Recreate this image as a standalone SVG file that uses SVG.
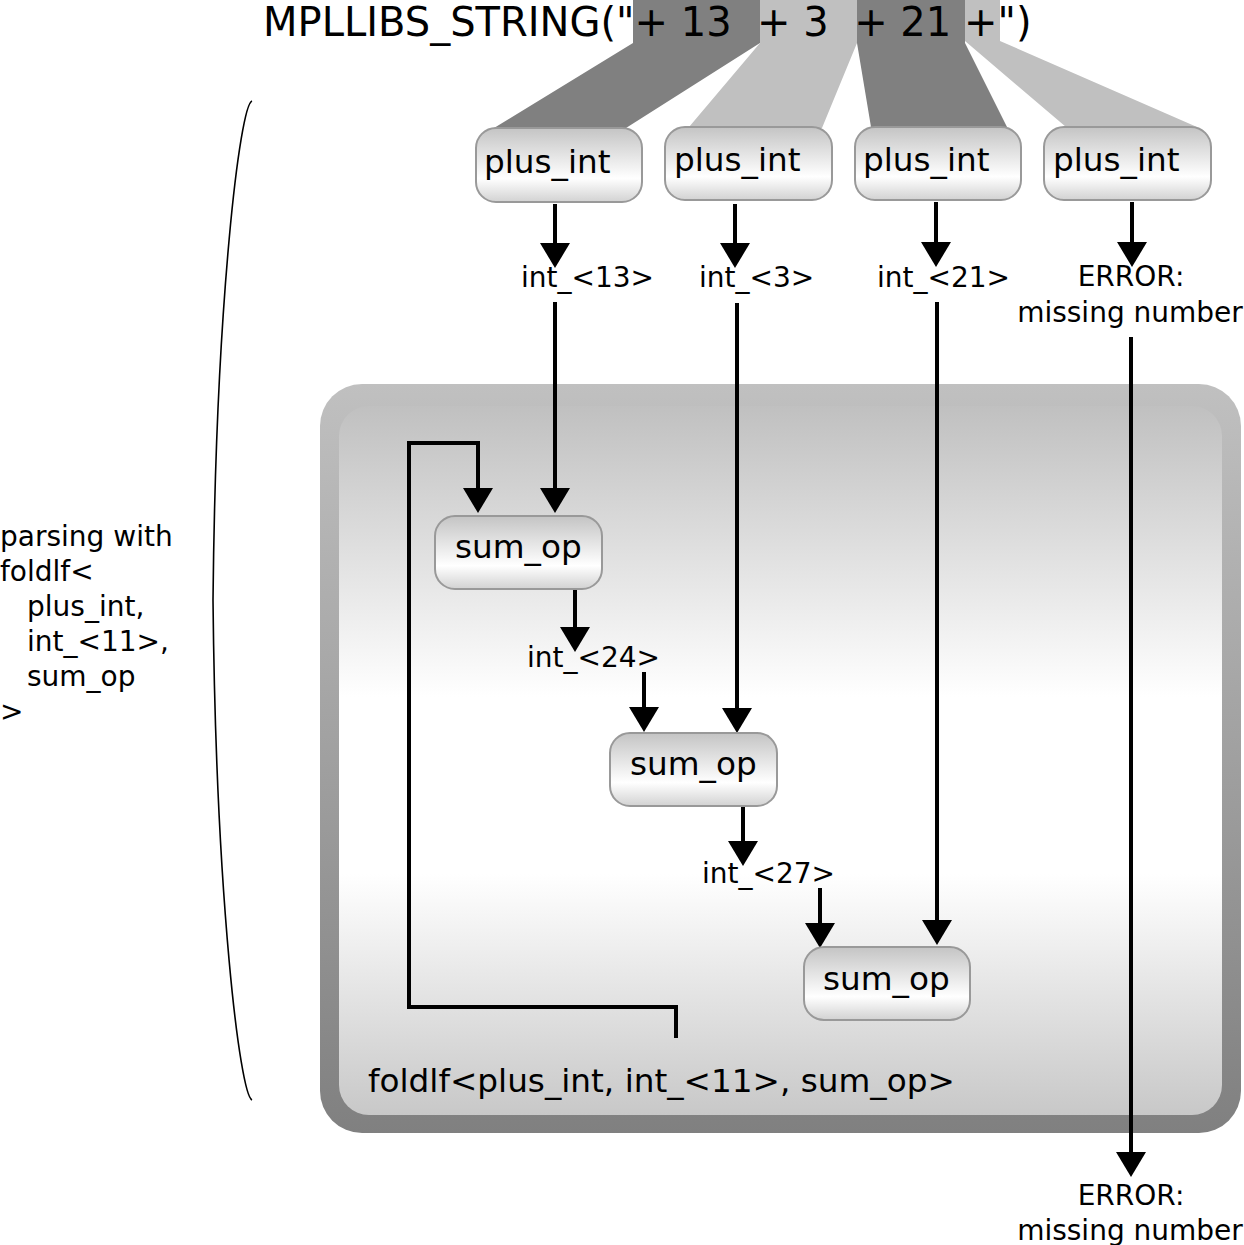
<svg xmlns="http://www.w3.org/2000/svg" width="1244" height="1245" viewBox="0 0 1244 1245">
<style>
text{font-family:"DejaVu Sans","Liberation Sans",sans-serif;fill:#000}
.title{font-size:40px}
.nt{font-size:32.7px}
.lb{font-size:28px}
.node{fill:url(#ng);stroke:#999;stroke-width:2}
.c{fill:none;stroke:#000;stroke-width:4}
.dk{fill:#808080}
.lt{fill:#c0c0c0}
</style>
<defs>
<linearGradient id="ng" x1="0" y1="0" x2="0" y2="1">
<stop offset="0" stop-color="#c4c4c4"/>
<stop offset="0.68" stop-color="#ffffff"/>
<stop offset="1" stop-color="#d2d2d2"/>
</linearGradient>
<linearGradient id="og" x1="0" y1="0" x2="0" y2="1">
<stop offset="0" stop-color="#c0c0c0"/>
<stop offset="1" stop-color="#808080"/>
</linearGradient>
<linearGradient id="ig" x1="0" y1="0" x2="0" y2="1">
<stop offset="0" stop-color="#c0c0c0"/>
<stop offset="0.41" stop-color="#ffffff"/>
<stop offset="0.66" stop-color="#ffffff"/>
<stop offset="1" stop-color="#c8c8c8"/>
</linearGradient>
<marker id="ah" markerUnits="userSpaceOnUse" markerWidth="25" markerHeight="30" refX="21" refY="15" orient="auto">
<path d="M0,0 L25,15 L0,30 z" fill="#000"/>
</marker>
</defs>
<rect width="1244" height="1245" fill="#fff"/>

<g id="container">
<rect x="320" y="384" width="921" height="749" rx="42" fill="url(#og)"/>
<rect x="339" y="406" width="883" height="709" rx="30" fill="url(#ig)"/>
<text x="368" y="1092" class="nt">foldlf&lt;plus_int, int_&lt;11&gt;, sum_op&gt;</text>
</g>

<g id="ribbons">
<polygon class="dk" points="633,0 760,0 760,43 626,128 494,128 633,43"/>
<polygon class="lt" points="760,0 857,0 857,43 822,128 689,127 760,43"/>
<polygon class="dk" points="857,0 965,0 965,43 1007,127 871,127 857,43"/>
<polygon class="lt" points="965,0 1000,0 1000,41 1197,127 1066,127 965,41"/>
</g>

<g id="title">
<text x="263" y="36" class="title" xml:space="preserve" style="white-space:pre">MPLLIBS_STRING("+ 13  + 3  + 21 +")</text>
</g>

<g id="brace">
<path d="M252,101 C240,105 216,300 213,600 C216,900 240,1095 252,1100" fill="none" stroke="#000" stroke-width="1.6"/>
<text class="lb"><tspan x="0" y="546">parsing with</tspan><tspan x="0" y="581">foldlf&lt;</tspan><tspan x="27" y="616">plus_int,</tspan><tspan x="27" y="651">int_&lt;11&gt;,</tspan><tspan x="27" y="686">sum_op</tspan><tspan x="0" y="721">&gt;</tspan></text>
</g>

<g id="connectors">
<path class="c" d="M555,204 V264" marker-end="url(#ah)"/>
<path class="c" d="M555,302 V509" marker-end="url(#ah)"/>
<path class="c" d="M735,204 V264" marker-end="url(#ah)"/>
<path class="c" d="M737,303 V729" marker-end="url(#ah)"/>
<path class="c" d="M936,202 V263" marker-end="url(#ah)"/>
<path class="c" d="M937,302 V941" marker-end="url(#ah)"/>
<path class="c" d="M1132,202 V263" marker-end="url(#ah)"/>
<path class="c" d="M1131,337 V1173" marker-end="url(#ah)"/>
<path class="c" d="M676,1038 V1007 H409 V443 H478 V509" marker-end="url(#ah)"/>
<path class="c" d="M575,590 V648" marker-end="url(#ah)"/>
<path class="c" d="M644,672 V728" marker-end="url(#ah)"/>
<path class="c" d="M743,806 V862" marker-end="url(#ah)"/>
<path class="c" d="M820,888 V944" marker-end="url(#ah)"/>
</g>

<g id="labels">
<text class="lb" x="521" y="287">int_&lt;13&gt;</text>
<text class="lb" x="699" y="287">int_&lt;3&gt;</text>
<text class="lb" x="877" y="287">int_&lt;21&gt;</text>
<text class="lb" x="1131" y="286" text-anchor="middle">ERROR:</text>
<text class="lb" x="1130" y="322" text-anchor="middle">missing number</text>
<text class="lb" x="527" y="667">int_&lt;24&gt;</text>
<text class="lb" x="702" y="883">int_&lt;27&gt;</text>
<text class="lb" x="1131" y="1205" text-anchor="middle">ERROR:</text>
<text class="lb" x="1130" y="1240" text-anchor="middle">missing number</text>
</g>

<g id="plus_int_1"><rect class="node" x="476" y="128" width="166" height="74" rx="20"/><text class="nt" x="484" y="173">plus_int</text></g>
<g id="plus_int_2"><rect class="node" x="665" y="127" width="167" height="73" rx="20"/><text class="nt" x="674" y="171">plus_int</text></g>
<g id="plus_int_3"><rect class="node" x="855" y="127" width="166" height="73" rx="20"/><text class="nt" x="863" y="171">plus_int</text></g>
<g id="plus_int_4"><rect class="node" x="1044" y="127" width="167" height="73" rx="20"/><text class="nt" x="1053" y="171">plus_int</text></g>

<g id="sum_op_1"><rect class="node" x="435" y="516" width="167" height="73" rx="20"/><text class="nt" x="455" y="558">sum_op</text></g>
<g id="sum_op_2"><rect class="node" x="610" y="733" width="167" height="73" rx="20"/><text class="nt" x="630" y="775">sum_op</text></g>
<g id="sum_op_3"><rect class="node" x="804" y="947" width="166" height="73" rx="20"/><text class="nt" x="823" y="990">sum_op</text></g>
</svg>
